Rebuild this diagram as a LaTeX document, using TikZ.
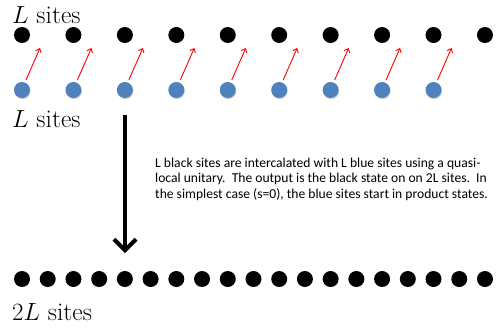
\documentclass[tikz,border=0pt]{standalone}
\usepackage{fontspec}
\newfontfamily\calfont{Carlito}
\usetikzlibrary{arrows.meta,calc,shadows}
\begin{document}
\begin{tikzpicture}[x=1pt,y=-1pt,
  blackdot/.style={circle,fill=black,minimum size=16pt,inner sep=0pt},
  bluedot/.style={circle,fill=dotblue,minimum size=16pt,inner sep=0pt,
     drop shadow={shadow xshift=0.6pt,shadow yshift=-1.2pt,opacity=0.35,fill=gray}},
  redarrow/.style={draw=red,line width=0.9pt,-{Straight Barb[length=3.5pt,width=6pt]}},
  bigarrow/.style={draw=black,line width=4pt,-{Straight Barb[length=11pt,width=22pt]}},
  bigtext/.style={anchor=base west,inner sep=0pt,font=\fontsize{25.5}{30}\selectfont},
  note/.style={anchor=base west,inner sep=0pt,align=left,
     font=\calfont\fontsize{13.6}{15.5}\selectfont}]
\definecolor{dotblue}{RGB}{79,129,189}
\useasboundingbox (0,0) rectangle (502,330);
\node[bigtext] (t1) at (12,23) {$L$ sites};
\node[bigtext] (t2) at (12,127) {$L$ sites};
\node[bigtext] (t3) at (12,320) {$2L$ sites};
\foreach \k in {1,...,10}
  \node[blackdot] (b\k) at ({22+51.44*(\k-1)},35) {};
\foreach \k in {1,...,9}
  \node[bluedot] (u\k) at ({22+51.44*(\k-1)},90) {};
\foreach \k in {1,...,9}
  \draw[redarrow] ($(u\k.center)+(4,-10)$) -- ($(b\k.center)+(18,13)$);
\foreach \k in {1,...,19}
  \node[blackdot] (c\k) at ({22+25.72*(\k-1)},279) {};
\coordinate (as) at (125,115);
\coordinate (ae) at (125,253);
\draw[bigarrow] (as) -- (ae);
\node[note] (n) at (155,198) {L black sites are intercalated with L blue sites using a quasi-\\
local unitary.\ \ The output is the black state on on 2L sites.\ \ In\\
the simplest case (s=0), the blue sites start in product states.};
\end{tikzpicture}
\end{document}
